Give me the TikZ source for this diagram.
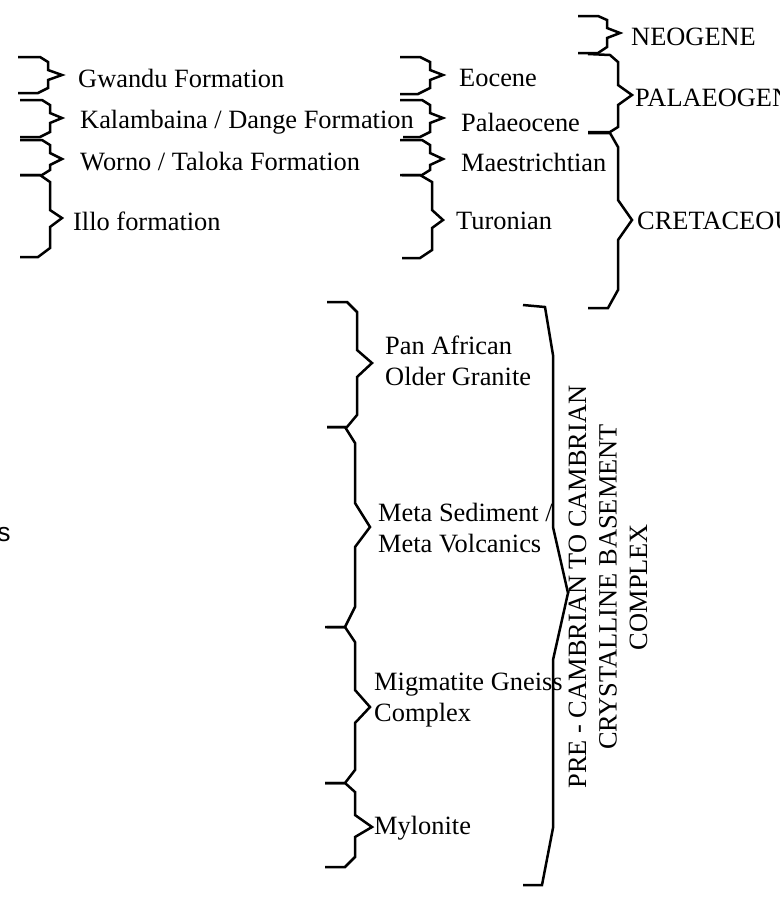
\documentclass[tikz,border=0pt]{standalone}
\usepackage{fontspec}
\setmainfont{Liberation Serif}
\newfontfamily\sansfam{Liberation Sans}

\tikzstyle{brace} = [line width=2.5pt, line join=miter, line cap=butt]
\tikzstyle{rocktext} = [anchor=west, inner sep=0pt, align=left, font=\fontsize{26.4}{30.4}\selectfont]

\begin{document}
\begin{tikzpicture}[x=1pt, y=-1pt]
	\useasboundingbox (0,0) rectangle (780,898);

	% formations
	\draw[brace] (18,57) -- (40,57) -- (48,62) -- (48,70) -- (62,75) -- (48,80) -- (48,88) -- (38,93) -- (18,93);
	\draw[brace] (20,100) -- (42,100) -- (50,105) -- (50,113) -- (62,118) -- (50,123) -- (50,132) -- (40,137) -- (20,137);
	\draw[brace] (20,140) -- (42,140) -- (50,145) -- (50,153) -- (62,159) -- (50,165) -- (50,170) -- (42,175) -- (20,175);
	\draw[brace] (20,175) -- (40,175) -- (50,182) -- (50,210) -- (62,218) -- (50,227) -- (50,248) -- (38,257) -- (20,257);

	\node[rocktext] (gwandu) at (78,78) {Gwandu Formation};
	\node[rocktext] (kalambaina) at (80,122) {Kalambaina / Dange Formation};
	\node[rocktext] (worno) at (80,162) {Worno / Taloka Formation};
	\node[rocktext] (illo) at (73,221) {Illo formation};

	% epochs
	\draw[brace] (400,57) -- (420,57) -- (430,62) -- (430,70) -- (443,75) -- (430,80) -- (430,88) -- (418,94) -- (400,94);
	\draw[brace] (400,100) -- (422,100) -- (430,105) -- (430,113) -- (443,118) -- (430,123) -- (430,132) -- (420,137) -- (403,137);
	\draw[brace] (400,140) -- (422,140) -- (430,145) -- (430,153) -- (443,159) -- (430,165) -- (430,170) -- (422,175) -- (400,175);
	\draw[brace] (402,175) -- (420,175) -- (432,182) -- (432,210) -- (443,220) -- (432,228) -- (432,250) -- (420,258) -- (402,258);

	\node[rocktext] (eocene) at (459,78) {Eocene};
	\node[rocktext] (palaeocene) at (461,122) {Palaeocene};
	\node[rocktext] (maestrichtian) at (461,162) {Maestrichtian};
	\node[rocktext] (turonian) at (456,221) {Turonian};

	% periods
	\draw[brace] (578,16) -- (598,16) -- (607,20) -- (607,28) -- (620,33) -- (607,38) -- (607,47) -- (598,53) -- (578,53);
	\draw[brace] (588,54) -- (610,55) -- (618,62) -- (618,85) -- (632,95) -- (618,105) -- (618,127) -- (610,132) -- (588,132);
	\draw[brace] (588,133) -- (610,133) -- (618,147) -- (618,200) -- (632,220) -- (618,240) -- (618,290) -- (608,308) -- (588,308);

	\node[rocktext] (neogene) at (631,37) {NEOGENE};
	\node[rocktext] (palaeogene) at (635,98) {PALAEOGENE};
	\node[rocktext] (cretaceous) at (637,221) {CRETACEOUS};

	% basement rocks
	\draw[brace] (327,302) -- (347,302) -- (357,312) -- (357,350) -- (372,363) -- (357,377) -- (357,415) -- (347,427) -- (327,427);
	\draw[brace] (327,427) -- (345,427) -- (355,443) -- (355,503) -- (370,527) -- (355,547) -- (355,607) -- (345,627) -- (327,627);
	\draw[brace] (325,627) -- (345,627) -- (355,642) -- (355,690) -- (370,707) -- (355,723) -- (355,770) -- (345,783) -- (325,783);
	\draw[brace] (325,783) -- (345,783) -- (355,792) -- (355,815) -- (372,827) -- (355,837) -- (355,857) -- (345,867) -- (325,867);

	\node[rocktext] (panafrican) at (385,361) {Pan African\\Older Granite};
	\node[rocktext] (metased) at (378,528) {Meta Sediment /\\Meta Volcanics};
	\node[rocktext] (migmatite) at (374,700) {Migmatite Gneiss\\Complex};
	\node[rocktext] (mylonite) at (374,828) {Mylonite};

	% basement complex
	\draw[brace] (523,305) -- (545,307) -- (553,355) -- (553,527) -- (568,593) -- (553,660) -- (553,828) -- (542,885) -- (523,885);
	\node[rocktext, anchor=center, align=center, rotate=90] (basement) at (608,587)
		{PRE - CAMBRIAN TO CAMBRIAN\\CRYSTALLINE BASEMENT\\COMPLEX};

	\node[inner sep=0pt, font=\sansfam\fontsize{26.4}{30.4}\selectfont] (cut) at (4,535) {s};
\end{tikzpicture}
\end{document}
